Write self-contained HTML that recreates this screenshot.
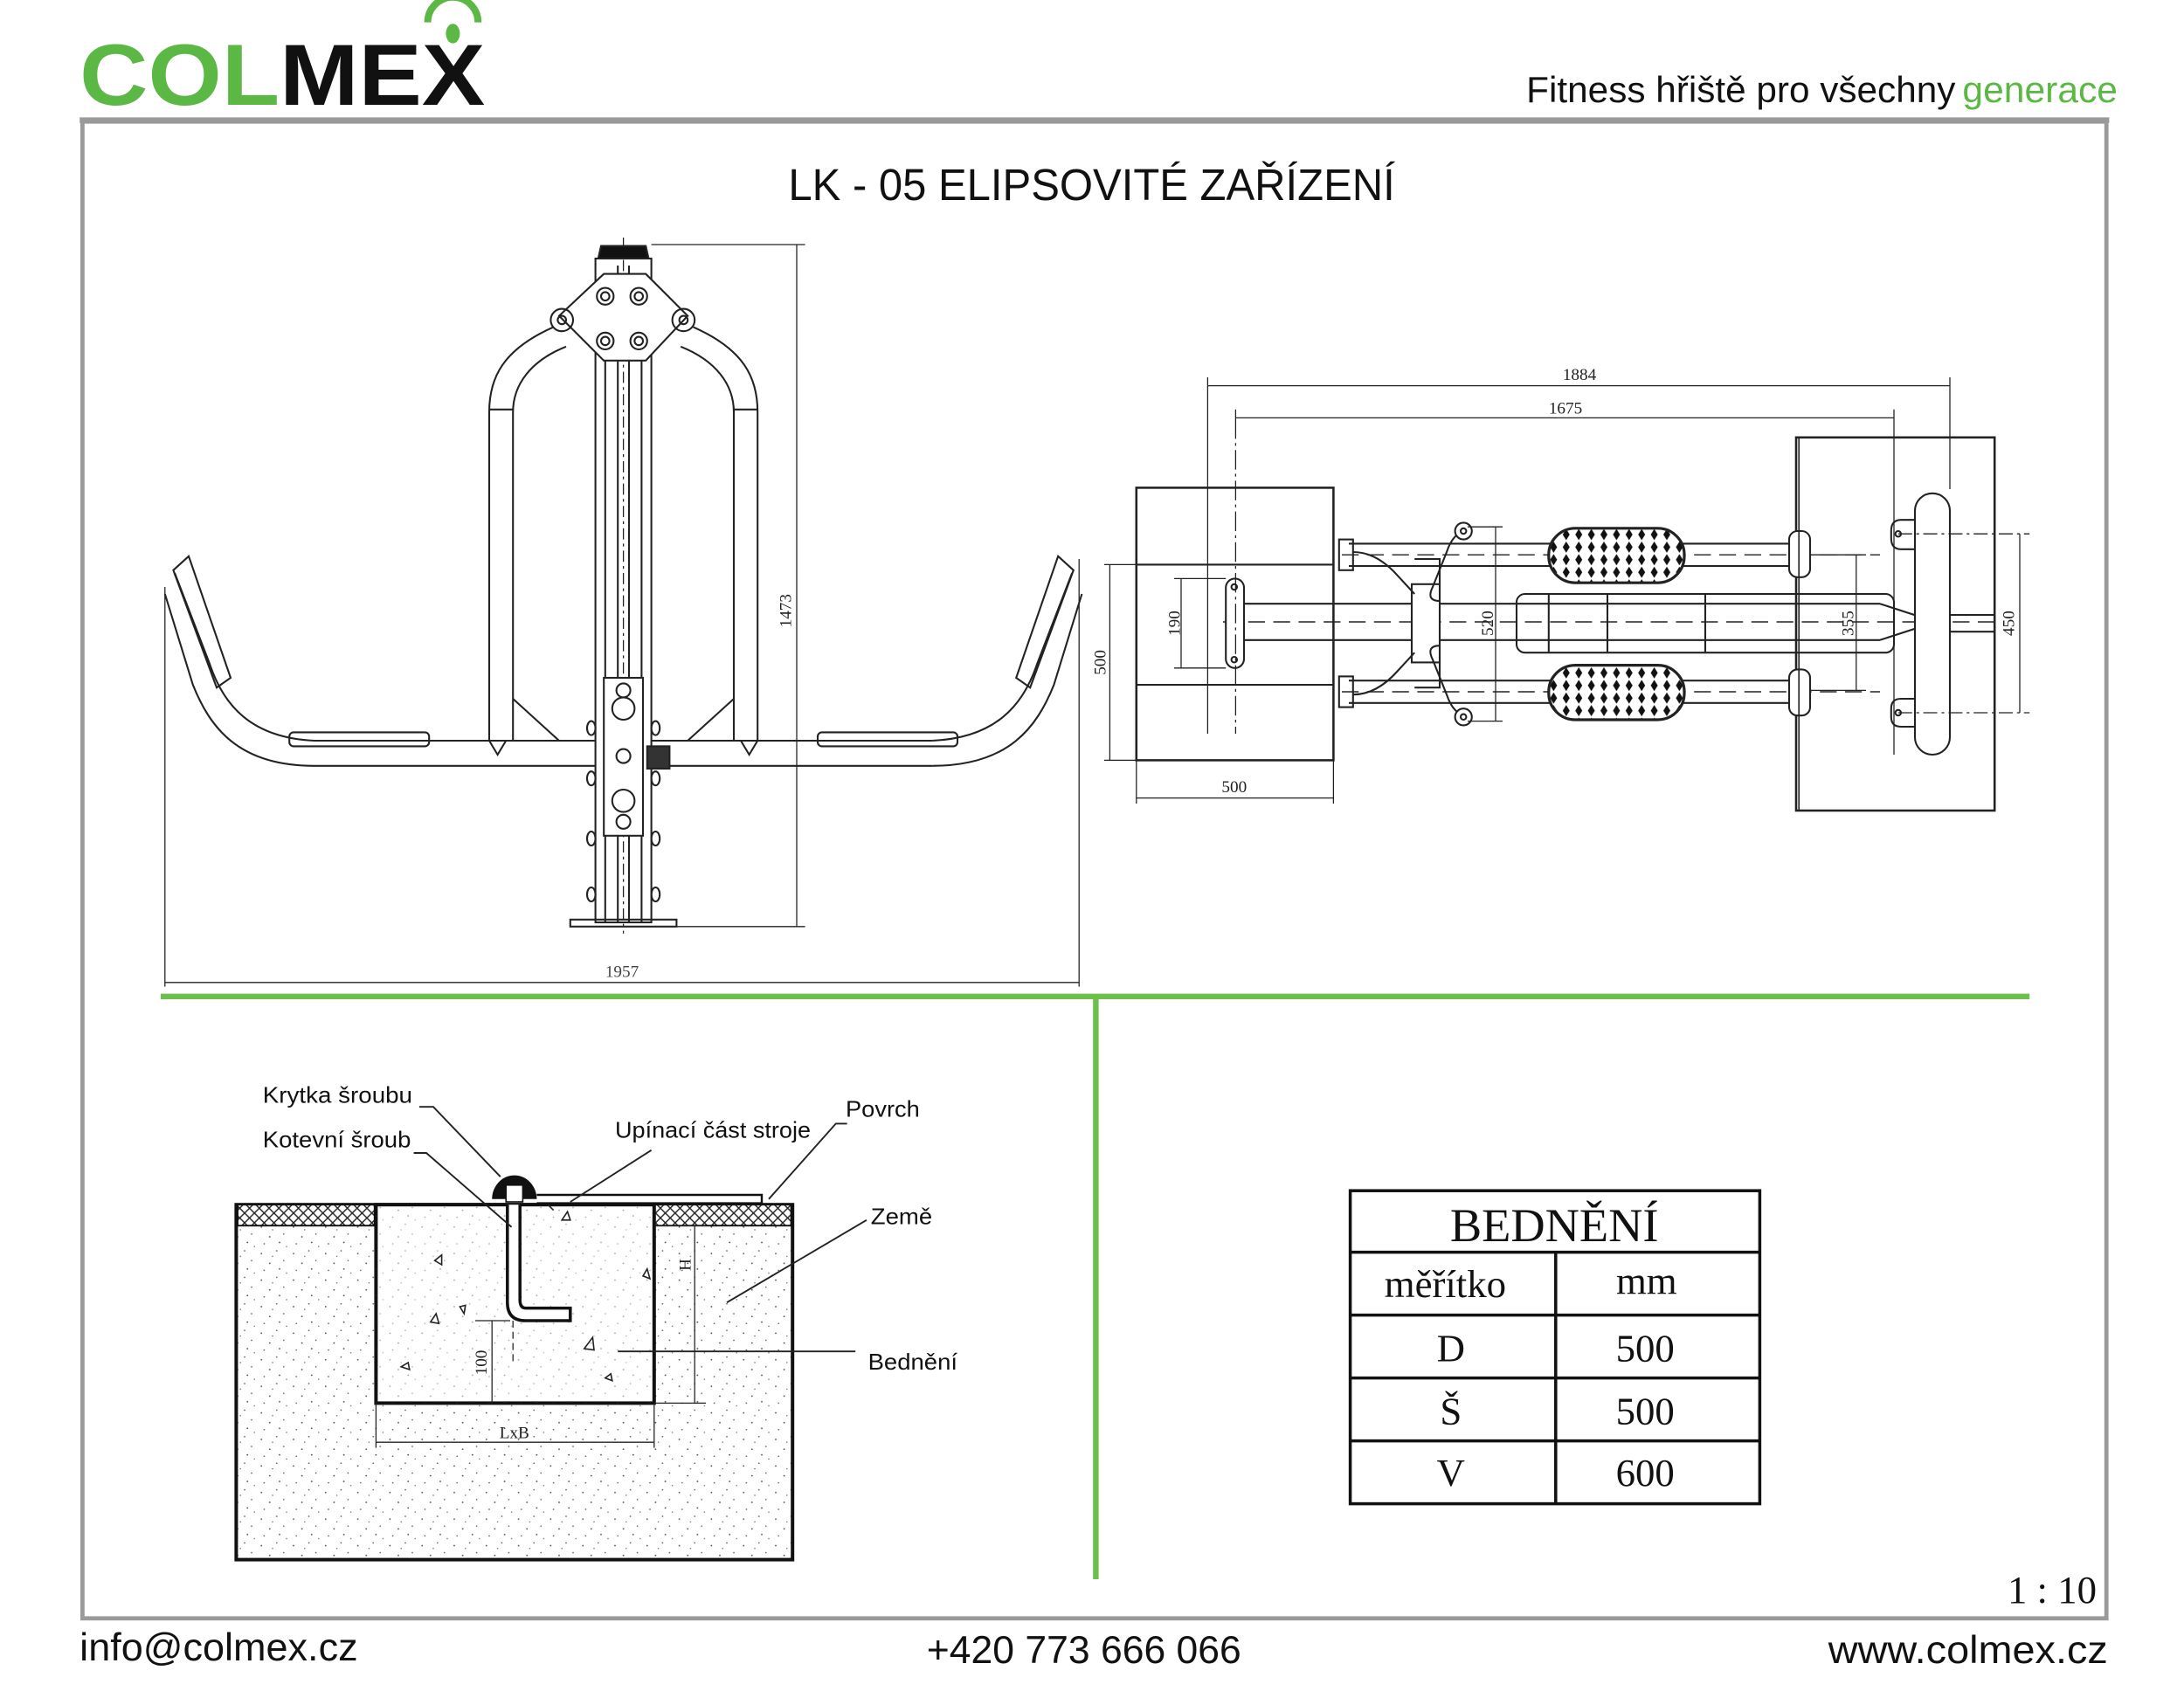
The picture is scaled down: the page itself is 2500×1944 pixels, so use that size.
<!DOCTYPE html>
<html><head><meta charset="utf-8"><style>
html,body{margin:0;padding:0;background:#fff;}
svg{display:block;}
</style></head><body>
<svg width="2500" height="1944" viewBox="0 0 1562.5 1215" xmlns="http://www.w3.org/2000/svg">
<defs>
<pattern id="dots" width="23" height="19" patternUnits="userSpaceOnUse">
<circle cx="3" cy="4" r="0.55" fill="#444"/><circle cx="14" cy="2" r="0.5" fill="#555"/>
<circle cx="9" cy="11" r="0.55" fill="#444"/><circle cx="19" cy="9" r="0.5" fill="#555"/>
<circle cx="5" cy="16" r="0.5" fill="#555"/><circle cx="16" cy="15" r="0.55" fill="#444"/>
<circle cx="21" cy="18" r="0.45" fill="#666"/><circle cx="11" cy="6" r="0.45" fill="#666"/>
</pattern>
<pattern id="hatch" width="7" height="7" patternUnits="userSpaceOnUse">
<rect width="7" height="7" fill="#fff"/>
<path d="M0 0L7 7M7 0L0 7" stroke="#222" stroke-width="0.9"/>
</pattern>
<pattern id="tread" width="9" height="9" patternUnits="userSpaceOnUse">
<rect width="9" height="9" fill="#fff"/>
<path d="M4.5 0.5L7 4.5L4.5 8.5L2 4.5Z" fill="#111"/>
</pattern>
</defs>

<text x="57" y="75" font-family="Liberation Sans, sans-serif" font-weight="bold" font-size="62" textLength="290" lengthAdjust="spacingAndGlyphs"><tspan fill="#5cb845">COL</tspan><tspan fill="#111">MEX</tspan></text>
<path d="M306 16 A16 16 0 0 1 342 16" fill="none" stroke="#5cb845" stroke-width="5"/>
<ellipse cx="324" cy="24" rx="5" ry="7" fill="#5cb845"/>
<text x="1092" y="73" font-family="Liberation Sans, sans-serif" font-size="26" fill="#111" textLength="307" lengthAdjust="spacingAndGlyphs">Fitness hřiště pro všechny</text>
<text x="1404" y="73" font-family="Liberation Sans, sans-serif" font-size="26" fill="#5cb845" textLength="111" lengthAdjust="spacingAndGlyphs">generace</text>

<rect x="59" y="87" width="1448" height="1071" fill="none" stroke="#9a9a9a" stroke-width="3"/>
<line x1="57" y1="86" x2="1509" y2="86" stroke="#999" stroke-width="4"/>

<text x="781" y="143" text-anchor="middle" font-family="Liberation Sans, sans-serif" font-size="32" fill="#111" textLength="434" lengthAdjust="spacingAndGlyphs">LK - 05 ELIPSOVITÉ ZAŘÍZENÍ</text>

<line x1="115" y1="713" x2="1452" y2="713" stroke="#6cc04a" stroke-width="4"/>
<line x1="784" y1="713" x2="784" y2="1130" stroke="#6cc04a" stroke-width="4"/>

<g fill="none" stroke="#222" stroke-width="1.3">
<rect x="426" y="185" width="40" height="475"/>
<line x1="433" y1="258" x2="433" y2="660"/><line x1="459" y1="258" x2="459" y2="660"/>
<line x1="442" y1="190" x2="442" y2="660"/><line x1="450" y1="190" x2="450" y2="660"/>
<line x1="446" y1="170" x2="446" y2="668" stroke-dasharray="8 3 2 3" stroke-width="0.8"/>
<path d="M428 185 L430 176 L462 176 L464 185 Z" fill="#111"/>
<rect x="408" y="658" width="76" height="5"/>
<path d="M432 196 L462 196 L492 226 L462 258 L432 258 L400 226 Z" fill="#fff"/>
<circle cx="433" cy="212" r="6"/><circle cx="433" cy="212" r="3"/>
<circle cx="457" cy="212" r="6"/><circle cx="457" cy="212" r="3"/>
<circle cx="433" cy="244" r="6"/><circle cx="433" cy="244" r="3"/>
<circle cx="457" cy="244" r="6"/><circle cx="457" cy="244" r="3"/>
<circle cx="402" cy="229" r="8"/><circle cx="402" cy="229" r="3"/>
<circle cx="489" cy="229" r="8"/><circle cx="489" cy="229" r="3"/>
<path d="M396 234 C360 250 350 270 350 295 L350 530 L356 540 L362 530 L367 530 L367 295 C367 275 380 258 405 248"/>
<path d="M496 234 C532 250 542 270 542 295 L542 530 L536 540 L530 530 L525 530 L525 295 C525 275 512 258 487 248"/>
<line x1="350" y1="293" x2="367" y2="293"/><line x1="525" y1="293" x2="542" y2="293"/>
<path d="M367 500 L400 530"/><path d="M525 500 L492 530"/>
<line x1="225" y1="530" x2="426" y2="530"/><line x1="225" y1="548" x2="426" y2="548"/>
<line x1="466" y1="530" x2="667" y2="530"/><line x1="466" y1="548" x2="667" y2="548"/>
<rect x="207" y="524" width="100" height="10" rx="3"/><rect x="585" y="524" width="100" height="10" rx="3"/>
<path d="M225 530 C180 528 160 505 150 475 L125 410 M225 548 C170 548 150 520 138 490 L118 425"/>
<path d="M667 530 C712 528 732 505 742 475 L767 410 M667 548 C722 548 742 520 754 490 L774 425"/>
<path d="M124 408 L135 398 L165 485 L155 492 Z"/><path d="M768 408 L757 398 L727 485 L737 492 Z"/>
<rect x="432" y="485" width="28" height="113" fill="#fff"/>
<circle cx="446" cy="494" r="5"/><circle cx="446" cy="507" r="8"/><circle cx="446" cy="541" r="5"/>
<circle cx="446" cy="573" r="8"/><circle cx="446" cy="588" r="5"/>
<ellipse cx="423" cy="521" rx="3" ry="5"/><ellipse cx="423" cy="557" rx="3" ry="5"/>
<ellipse cx="469" cy="521" rx="3" ry="5"/><ellipse cx="469" cy="557" rx="3" ry="5"/>
<ellipse cx="423" cy="600" rx="3" ry="5"/><ellipse cx="423" cy="640" rx="3" ry="5"/>
<ellipse cx="469" cy="600" rx="3" ry="5"/><ellipse cx="469" cy="640" rx="3" ry="5"/>
<rect x="463" y="534" width="16" height="16" fill="#333"/>
<g stroke-width="0.8">
<line x1="466" y1="175" x2="576" y2="175"/><line x1="482" y1="663" x2="576" y2="663"/>
<line x1="570" y1="175" x2="570" y2="663"/>
<line x1="118" y1="420" x2="118" y2="706"/><line x1="772" y1="400" x2="772" y2="706"/>
<line x1="118" y1="703" x2="772" y2="703"/>
</g>
</g>
<text transform="translate(566 437) rotate(-90)" text-anchor="middle" font-family="Liberation Serif, serif" font-size="12" fill="#222">1473</text>
<text x="445" y="699" text-anchor="middle" font-family="Liberation Serif, serif" font-size="12" fill="#444">1957</text>

<g fill="none" stroke="#222" stroke-width="1.3">
<rect x="813" y="349" width="141" height="195" stroke-width="1.6"/>
<line x1="813" y1="404" x2="954" y2="404"/><line x1="813" y1="490" x2="954" y2="490"/>
<rect x="1285" y="313" width="142" height="267" stroke-width="1.6"/>
<path d="M890 432 L1010 432 M890 458 L1010 458 M890 432 A13 13 0 0 0 890 458"/>
<line x1="1030" y1="432" x2="1345" y2="432"/><line x1="1030" y1="458" x2="1345" y2="458"/>
<path d="M1345 432 L1385 445 L1345 458"/>
<line x1="1385" y1="440" x2="1427" y2="440"/><line x1="1385" y1="452" x2="1427" y2="452"/>
<rect x="1085" y="425" width="270" height="42" rx="6"/>
<line x1="1108" y1="425" x2="1108" y2="467"/><line x1="1150" y1="425" x2="1150" y2="467"/><line x1="1220" y1="425" x2="1220" y2="467"/>
<line x1="875" y1="445" x2="1427" y2="445" stroke-dasharray="12 6" stroke-width="0.9"/>
<rect x="877" y="414" width="13" height="64" rx="6.5" fill="#fff"/>
<circle cx="883" cy="420" r="2"/><circle cx="883" cy="472" r="2"/>
<line x1="884" y1="300" x2="884" y2="525" stroke-dasharray="14 3 2 3" stroke-width="0.8"/>
<rect x="1370" y="353" width="25" height="187" rx="12.5" fill="#fff"/>
<path d="M1370 372 L1360 372 Q1353 372 1353 380 L1353 385 Q1353 393 1360 393 L1370 393"/>
<path d="M1370 500 L1360 500 Q1353 500 1353 507 L1353 513 Q1353 520 1360 520 L1370 520"/>
<circle cx="1358" cy="382" r="2"/><circle cx="1358" cy="510" r="2"/>
<line x1="1358" y1="382" x2="1452" y2="382" stroke-dasharray="10 3 2 3" stroke-width="0.8"/>
<line x1="1358" y1="510" x2="1452" y2="510" stroke-dasharray="10 3 2 3" stroke-width="0.8"/>
<line x1="965" y1="389" x2="1280" y2="389"/><line x1="965" y1="405" x2="1280" y2="405"/>
<line x1="965" y1="487" x2="1280" y2="487"/><line x1="965" y1="503" x2="1280" y2="503"/>
<line x1="960" y1="397" x2="1345" y2="397" stroke-dasharray="12 6" stroke-width="0.9"/>
<line x1="960" y1="495" x2="1345" y2="495" stroke-dasharray="12 6" stroke-width="0.9"/>
<rect x="958" y="386" width="10" height="22"/><rect x="958" y="484" width="10" height="22"/>
<rect x="1280" y="380" width="15" height="33" rx="6" fill="#fff"/><rect x="1280" y="479" width="15" height="33" rx="6" fill="#fff"/>
<line x1="1287" y1="313" x2="1287" y2="580" stroke-width="1"/>
<rect x="1108" y="378" width="97" height="39" rx="19" fill="url(#tread)" stroke-width="2"/>
<rect x="1108" y="476" width="97" height="39" rx="19" fill="url(#tread)" stroke-width="2"/>
<rect x="1010" y="418" width="20" height="56" fill="#fff"/>
<path d="M1012 400 L1030 400 L1030 418 M1012 492 L1030 492 L1030 474"/>
<path d="M968 395 Q985 395 1000 412 L1012 425 M968 497 Q985 497 1000 480 L1012 467"/>
<path d="M1050 380 Q1040 380 1035 395 L1025 420 Q1020 430 1030 430 M1050 512 Q1040 512 1035 497 L1025 472 Q1020 462 1030 462"/>
<circle cx="1047" cy="380" r="6" fill="#fff"/><circle cx="1047" cy="380" r="2"/>
<circle cx="1047" cy="513" r="6" fill="#fff"/><circle cx="1047" cy="513" r="2"/>
<g stroke-width="0.8">
<line x1="864" y1="270" x2="864" y2="525"/><line x1="1395" y1="270" x2="1395" y2="350"/>
<line x1="864" y1="276" x2="1395" y2="276"/>
<line x1="884" y1="293" x2="884" y2="300"/><line x1="1355" y1="293" x2="1355" y2="540"/>
<line x1="884" y1="299" x2="1355" y2="299"/>
<line x1="790" y1="404" x2="813" y2="404"/><line x1="790" y1="544" x2="813" y2="544"/>
<line x1="794" y1="404" x2="794" y2="544"/>
<line x1="813" y1="544" x2="813" y2="575"/><line x1="954" y1="544" x2="954" y2="575"/>
<line x1="813" y1="571" x2="954" y2="571"/>
<line x1="840" y1="414" x2="877" y2="414"/><line x1="840" y1="478" x2="877" y2="478"/>
<line x1="845" y1="414" x2="845" y2="478"/>
<line x1="1050" y1="377" x2="1075" y2="377"/><line x1="1050" y1="516" x2="1075" y2="516"/>
<line x1="1070" y1="377" x2="1070" y2="516"/>
<line x1="1295" y1="397" x2="1335" y2="397"/><line x1="1295" y1="494" x2="1335" y2="494"/>
<line x1="1328" y1="397" x2="1328" y2="494"/>
<line x1="1445" y1="382" x2="1445" y2="510"/>
</g>
</g>
<g font-family="Liberation Serif, serif" font-size="12" fill="#222">
<text x="1130" y="272" text-anchor="middle">1884</text>
<text x="1120" y="296" text-anchor="middle">1675</text>
<text x="883" y="567" text-anchor="middle">500</text>
<text transform="translate(791 474) rotate(-90)" text-anchor="middle">500</text>
<text transform="translate(844 446) rotate(-90)" text-anchor="middle">190</text>
<text transform="translate(1068 446) rotate(-90)" text-anchor="middle">520</text>
<text transform="translate(1326 446) rotate(-90)" text-anchor="middle">355</text>
<text transform="translate(1441 446) rotate(-90)" text-anchor="middle">450</text>
</g>

<rect x="169" y="862" width="398" height="254" fill="url(#dots)" stroke="#111" stroke-width="2.5"/>
<rect x="170" y="862" width="98" height="15" fill="url(#hatch)" stroke="#111" stroke-width="1.2"/>
<rect x="468" y="862" width="98" height="15" fill="url(#hatch)" stroke="#111" stroke-width="1.2"/>
<rect x="269" y="862" width="199" height="142" fill="#fff" stroke="#111" stroke-width="2.5"/>
<rect x="269" y="862" width="199" height="142" fill="url(#dots)" opacity="0.5"/>
<g fill="none" stroke="#222" stroke-width="1">
<path d="M316 905 l-5 -3 l5 -4 z"/><path d="M314 947 l-6 -1 l4 -6 z"/><path d="M332 940 l-3 -5 l4 -1 z"/>
<path d="M293 980 l-6 -2 l5 -3 z"/><path d="M418 965 l6 -8 l1 9 z"/><path d="M438 988 l-5 -2 l4 -3 z"/>
<path d="M465 915 l-5 -2 l3 -5 z"/><path d="M402 873 l4 -6 l2 6 z"/><path d="M392 862 l4 4"/>
</g>
<path d="M363 862 L363 932 Q363 945 376 945 L408 945 L408 936 L376 936 Q372 936 372 930 L372 862" fill="#fff" stroke="#111" stroke-width="2.2"/>
<line x1="367" y1="945" x2="367" y2="975" stroke="#222" stroke-width="0.8" stroke-dasharray="5 3"/>
<path d="M352 858 A16 17 0 0 1 384 858 Z" fill="#111"/>
<rect x="362" y="848" width="12" height="12" fill="#fff" stroke="#111"/>
<path d="M384 855 L545 855 L545 861 L384 861" fill="none" stroke="#111" stroke-width="1.5"/>
<g stroke="#222" stroke-width="0.8" fill="none">
<line x1="340" y1="945" x2="365" y2="945"/><line x1="352" y1="945" x2="352" y2="1004"/>
<line x1="469" y1="877" x2="505" y2="877"/><line x1="469" y1="1004" x2="505" y2="1004"/><line x1="497" y1="877" x2="497" y2="1004"/>
<line x1="269" y1="1004" x2="269" y2="1036"/><line x1="468" y1="1004" x2="468" y2="1036"/><line x1="269" y1="1032" x2="468" y2="1032"/>
</g>
<g font-family="Liberation Serif, serif" font-size="12" fill="#222">
<text transform="translate(348 975) rotate(-90)" text-anchor="middle">100</text>
<text transform="translate(494 905) rotate(-90)" text-anchor="middle">H</text>
<text x="368" y="1029" text-anchor="middle">LxB</text>
</g>
<g stroke="#222" stroke-width="1.2" fill="none">
<path d="M300 792 L310 792 L358 842"/>
<path d="M296 825 L305 825 L366 878"/>
<path d="M466 823 L408 860"/>
<path d="M606 804 L598 804 L550 858"/>
<path d="M620 873 L520 932"/>
<path d="M442 967 L612 967"/>
</g>
<g font-family="Liberation Sans, sans-serif" font-size="16" fill="#111">
<text x="188" y="789" textLength="107" lengthAdjust="spacingAndGlyphs">Krytka šroubu</text>
<text x="188" y="821" textLength="106" lengthAdjust="spacingAndGlyphs">Kotevní šroub</text>
<text x="440" y="814" textLength="140" lengthAdjust="spacingAndGlyphs">Upínací část stroje</text>
<text x="605" y="799" textLength="53" lengthAdjust="spacingAndGlyphs">Povrch</text>
<text x="623" y="876" textLength="44" lengthAdjust="spacingAndGlyphs">Země</text>
<text x="621" y="980" textLength="64" lengthAdjust="spacingAndGlyphs">Bednění</text>
</g>

<g stroke="#111" stroke-width="2.2" fill="none">
<rect x="966" y="852" width="293" height="224"/>
<line x1="966" y1="896" x2="1259" y2="896"/>
<line x1="966" y1="941" x2="1259" y2="941"/>
<line x1="966" y1="986" x2="1259" y2="986"/>
<line x1="966" y1="1031" x2="1259" y2="1031"/>
<line x1="1113" y1="896" x2="1113" y2="1076"/>
</g>
<g font-family="Liberation Serif, serif" fill="#111" text-anchor="middle">
<text x="1112" y="888" font-size="34">BEDNĚNÍ</text>
<text x="1034" y="928" font-size="28">měřítko</text>
<text x="1178" y="926" font-size="28">mm</text>
<text x="1038" y="974" font-size="28">D</text>
<text x="1177" y="974" font-size="28">500</text>
<text x="1038" y="1019" font-size="28">Š</text>
<text x="1177" y="1019" font-size="28">500</text>
<text x="1038" y="1063" font-size="28">V</text>
<text x="1177" y="1063" font-size="28">600</text>
<text x="1500" y="1147" font-size="28" text-anchor="end">1 : 10</text>
</g>

<g font-family="Liberation Sans, sans-serif" font-size="28" fill="#111">
<text x="57" y="1188" textLength="199" lengthAdjust="spacingAndGlyphs">info@colmex.cz</text>
<text x="663" y="1190" textLength="225" lengthAdjust="spacingAndGlyphs">+420 773 666 066</text>
<text x="1308" y="1190" textLength="200" lengthAdjust="spacingAndGlyphs">www.colmex.cz</text>
</g>
</svg>
</body></html>
